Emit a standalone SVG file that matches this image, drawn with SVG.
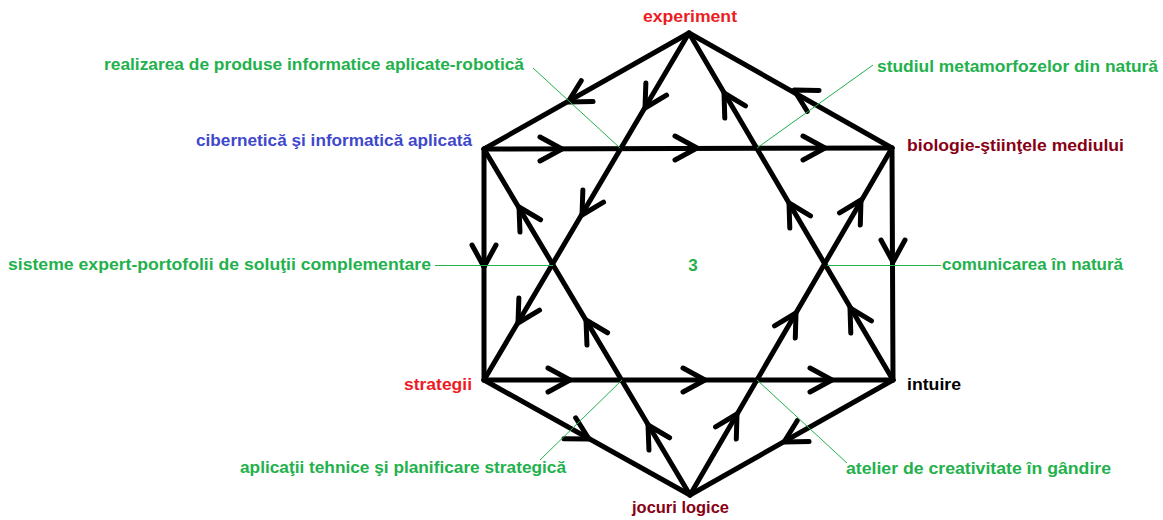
<svg xmlns="http://www.w3.org/2000/svg" xmlns:xlink="http://www.w3.org/1999/xlink" width="1163" height="520" viewBox="0 0 1163 520">
<style>
.e{stroke:#000;stroke-width:5;stroke-linecap:round;stroke-linejoin:round;fill:none}
.ld{stroke:#22b14c;stroke-width:1;fill:none}
text{font-family:"Liberation Sans",Arial,sans-serif;font-weight:bold;font-size:17px}
.g{fill:#22b14c}.r{fill:#ed1c24}.dr{fill:#880015}.b{fill:#3f48cc}.k{fill:#000}
</style>
<defs>
<path id="ch" class="e" d="M-22,-12 L0,0 L-22,12"/>
</defs>
<rect width="1163" height="520" fill="#fff"/>
<g id="connectors">
<line class="e" x1="689" y1="33" x2="484" y2="149"/>
<line class="e" x1="689" y1="33" x2="892" y2="148"/>
<line class="e" x1="484" y1="149" x2="484" y2="380"/>
<line class="e" x1="892" y1="148" x2="893" y2="380"/>
<line class="e" x1="484" y1="380" x2="690" y2="495"/>
<line class="e" x1="893" y1="380" x2="690" y2="495"/>
<line class="e" x1="484" y1="149" x2="892" y2="148"/>
<line class="e" x1="484" y1="380" x2="893" y2="380"/>
<line class="e" x1="689" y1="33" x2="484" y2="380"/>
<line class="e" x1="689" y1="33" x2="893" y2="380"/>
<line class="e" x1="690" y1="495" x2="484" y2="149"/>
<line class="e" x1="690" y1="495" x2="892" y2="148"/>
<use xlink:href="#ch" transform="translate(568,102) rotate(150.5)"/>
<use xlink:href="#ch" transform="translate(794,90) rotate(209.5)"/>
<use xlink:href="#ch" transform="translate(645,108) rotate(120.6)"/>
<use xlink:href="#ch" transform="translate(582,215) rotate(120.6)"/>
<use xlink:href="#ch" transform="translate(518,323) rotate(120.6)"/>
<use xlink:href="#ch" transform="translate(724,93) rotate(-120.4)"/>
<use xlink:href="#ch" transform="translate(789,203) rotate(-120.4)"/>
<use xlink:href="#ch" transform="translate(850,308) rotate(-120.4)"/>
<use xlink:href="#ch" transform="translate(519,207) rotate(-120.8)"/>
<use xlink:href="#ch" transform="translate(586,320) rotate(-120.8)"/>
<use xlink:href="#ch" transform="translate(648,425) rotate(-120.8)"/>
<use xlink:href="#ch" transform="translate(861,200) rotate(-59.8)"/>
<use xlink:href="#ch" transform="translate(796,313) rotate(-59.8)"/>
<use xlink:href="#ch" transform="translate(737,414) rotate(-59.8)"/>
<use xlink:href="#ch" transform="translate(562,149)"/>
<use xlink:href="#ch" transform="translate(697,148)"/>
<use xlink:href="#ch" transform="translate(825,148)"/>
<use xlink:href="#ch" transform="translate(570,380)"/>
<use xlink:href="#ch" transform="translate(705,380)"/>
<use xlink:href="#ch" transform="translate(832,380)"/>
<use xlink:href="#ch" transform="translate(484,267) rotate(90)"/>
<use xlink:href="#ch" transform="translate(893,262) rotate(90)"/>
<use xlink:href="#ch" transform="translate(589,439) rotate(29.2)"/>
<use xlink:href="#ch" transform="translate(784,442) rotate(150.5)"/>
</g>
<g id="leaders">
<line class="ld" x1="533" y1="68" x2="620" y2="148"/>
<line class="ld" x1="757" y1="148" x2="873" y2="65"/>
<line class="ld" x1="435" y1="265.5" x2="553" y2="265.5"/>
<line class="ld" x1="827" y1="265.5" x2="941" y2="265.5"/>
<line class="ld" x1="540" y1="460" x2="622" y2="380"/>
<line class="ld" x1="757" y1="380" x2="847" y2="463"/>
</g>
<g id="node-experiment"><text class="r" x="643" y="22" textLength="94" lengthAdjust="spacingAndGlyphs">experiment</text></g>
<g id="node-robotica"><text class="g" x="104" y="70" textLength="420" lengthAdjust="spacingAndGlyphs">realizarea de produse informatice aplicate-robotică</text></g>
<g id="node-metamorfoze"><text class="g" x="877" y="72" textLength="281" lengthAdjust="spacingAndGlyphs">studiul metamorfozelor din natură</text></g>
<g id="node-cibernetica"><text class="b" x="196" y="146" textLength="276" lengthAdjust="spacingAndGlyphs">cibernetică şi informatică aplicată</text></g>
<g id="node-biologie"><text class="dr" x="907" y="151" textLength="217" lengthAdjust="spacingAndGlyphs">biologie-ştiinţele mediului</text></g>
<g id="node-sisteme"><text class="g" x="8" y="270" textLength="423" lengthAdjust="spacingAndGlyphs">sisteme expert-portofolii de soluţii complementare</text></g>
<g id="node-center"><text class="g" x="693" y="271" text-anchor="middle">3</text></g>
<g id="node-comunicarea"><text class="g" x="942" y="270" textLength="181" lengthAdjust="spacingAndGlyphs">comunicarea în natură</text></g>
<g id="node-strategii"><text class="r" x="404" y="390" textLength="68" lengthAdjust="spacingAndGlyphs">strategii</text></g>
<g id="node-intuire"><text class="k" x="907" y="390" textLength="54" lengthAdjust="spacingAndGlyphs">intuire</text></g>
<g id="node-aplicatii"><text class="g" x="240" y="473" textLength="326" lengthAdjust="spacingAndGlyphs">aplicaţii tehnice şi planificare strategică</text></g>
<g id="node-atelier"><text class="g" x="846" y="474" textLength="265" lengthAdjust="spacingAndGlyphs">atelier de creativitate în gândire</text></g>
<g id="node-jocuri"><text class="dr" x="632" y="513" textLength="97" lengthAdjust="spacingAndGlyphs">jocuri logice</text></g>
</svg>
